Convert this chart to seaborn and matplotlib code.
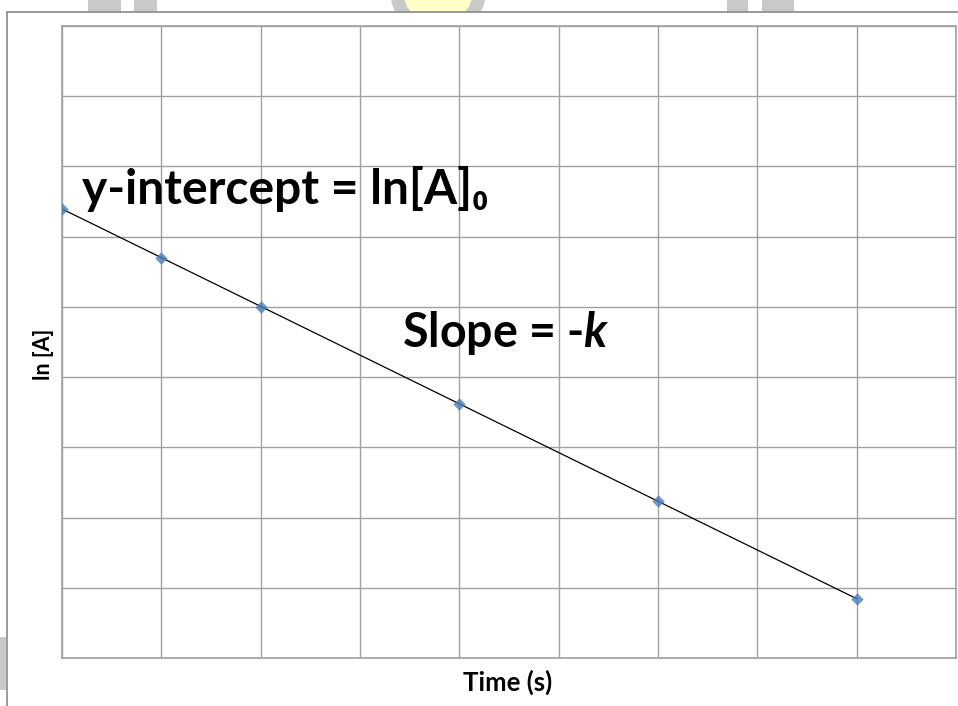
import matplotlib.pyplot as plt
import seaborn as sns
from matplotlib.patches import Rectangle, Circle
from matplotlib.lines import Line2D

# data (grid units)
time_s = [0, 1, 2, 4, 6, 8]
ln_a = [6.40, 5.70, 5.00, 3.62, 2.24, 0.84]

x_ticks = list(range(0, 10))
y_ticks = list(range(0, 10))

GRID = "#a0a0a0"
FONT = ["Lato", "DejaVu Sans"]

sns.set_theme(style="white")
plt.rcParams["font.family"] = FONT
plt.rcParams["text.color"] = "black"
plt.rcParams["axes.labelcolor"] = "black"
plt.rcParams["mathtext.fontset"] = "custom"
plt.rcParams["mathtext.rm"] = "Lato:bold"
plt.rcParams["mathtext.it"] = "Lato:bold:italic"
plt.rcParams["mathtext.bf"] = "Lato:bold"

W, H = 958, 706
fig = plt.figure(figsize=(W / 100, H / 100), dpi=100)

# background layer in pixel coords: watermark scraps and outer frame
bg = fig.add_axes([0, 0, 1, 1], zorder=0)
bg.set_xlim(0, W)
bg.set_ylim(H, 0)
bg.axis("off")
for x0, x1 in [(88, 121), (134, 157), (727, 748), (762, 794)]:
    bg.add_patch(Rectangle((x0, -5), x1 - x0, 20, color="#c9c9c9", lw=0))
bg.add_patch(Circle((438, -10), 48, color="#c9c9c9", lw=0))
bg.add_patch(Circle((438, -10), 35, color="#ffffc8", lw=0))
bg.add_patch(Rectangle((0, 637), 6, 53, color="#c9c9c9", lw=0))
bg.add_patch(Rectangle((7, 12), W, H, facecolor="white", edgecolor="none"))
bg.add_line(Line2D([7, 7], [12, H], color="#8a8a8a", lw=1.2))
bg.add_line(Line2D([7, W], [12, 12], color="#8a8a8a", lw=1.2))

ax = fig.add_axes([62 / W, 1 - 658 / H, (956 - 62) / W, (658 - 26) / H], zorder=1)
ax.set_facecolor("none")

sns.regplot(
    x=time_s,
    y=ln_a,
    ci=None,
    marker="D",
    ax=ax,
    scatter_kws=dict(color="#4a7ebb", s=40, zorder=3, linewidths=0),
    line_kws=dict(color="black", lw=0.9, zorder=2),
)

ax.set_xlim(0, 9)
ax.set_ylim(0, 9)
ax.set_xticks(x_ticks)
ax.set_yticks(y_ticks)
ax.set_xticklabels([])
ax.set_yticklabels([])
ax.tick_params(length=0)
ax.grid(True, color=GRID, lw=1.0)
for s in ax.spines.values():
    s.set_color(GRID)
    s.set_linewidth(1.2)

ax.set_xlabel("Time (s)", fontsize=18.5, fontweight="bold")
ax.xaxis.set_label_coords(0.499, -0.038)
ax.xaxis.label.set_va("center")
ax.set_ylabel("ln [A]", fontsize=15.5, fontweight="bold")
ax.yaxis.set_label_coords(-0.021, 0.481)
ax.yaxis.label.set_va("center")

ax.text(
    0.2, 6.46, "y-intercept = ln[A]\u2080",
    fontsize=34.5, fontweight="bold", family=FONT, ha="left", va="baseline",
)
ax.text(3.42, 4.43, "Slope = -$k$", fontsize=33.5, fontweight="bold", ha="left", va="baseline")

fig.savefig("out.png", dpi=100)
